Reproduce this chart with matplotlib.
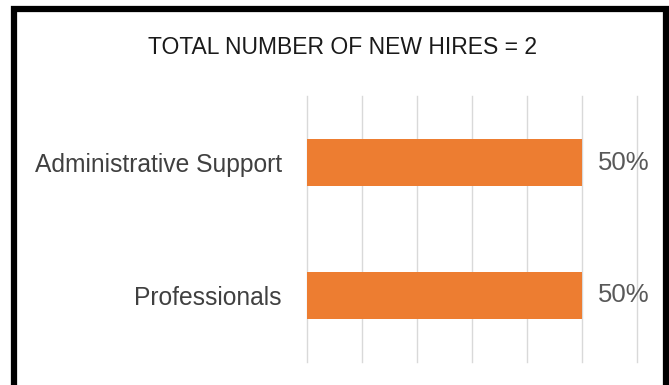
import matplotlib.pyplot as plt
from matplotlib.patches import Rectangle

categories = ["Administrative Support", "Professionals"]
shares = [0.50, 0.50]
title = "TOTAL NUMBER OF NEW HIRES = 2"

plt.rcParams['font.family'] = ['Liberation Sans', 'DejaVu Sans']

fig = plt.figure(figsize=(6.69, 3.85), dpi=100)
ax = fig.add_axes([307 / 669, 23 / 385, 330 / 669, 266 / 385])

pos = list(range(len(categories)))
ax.barh(pos, shares, height=0.355, color="#ED7D31", zorder=3)
ax.set_ylim(len(categories) - 0.5, -0.5)
ax.set_xlim(0, 0.6)
ax.set_xticks([i / 10 for i in range(7)])
ax.xaxis.grid(True, color="#D9D9D9", linewidth=1)
for gl in ax.get_xgridlines():
    gl.set_clip_on(False)
ax.tick_params(axis="x", length=0, labelbottom=False)
ax.tick_params(axis="y", length=0, pad=18, labelsize=17.7, labelcolor="#404040")
ax.set_yticks(pos)
ax.set_yticklabels(categories)
for s in ax.spines.values():
    s.set_visible(False)

for p, v in zip(pos, shares):
    ax.annotate(f"{v:.0%}", (v, p), xytext=(11.5, 0), textcoords="offset points",
                va="center", ha="left", fontsize=18.5, color="#595959")

fig.text(343 / 669, 1 - 48 / 385, title, ha="center", va="center",
         fontsize=16.5, color="#1a1a1a")

# black frame, bottom edge runs off the image
fig.patches.append(Rectangle((14 / 669, -0.1), 652 / 669, 1.1 - 9 / 385,
                             transform=fig.transFigure, fill=False,
                             edgecolor="black", linewidth=4.5, zorder=10))

fig.savefig("out.png", dpi=100)
